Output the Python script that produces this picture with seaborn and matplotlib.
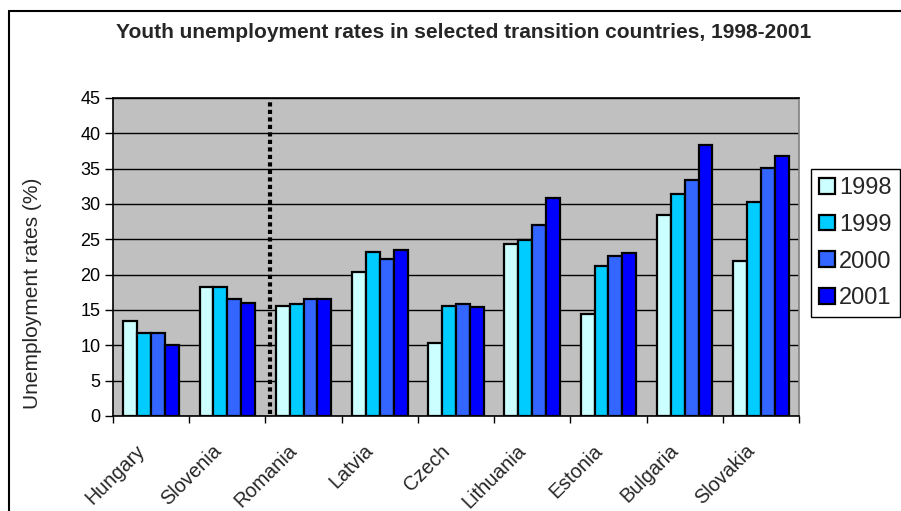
import matplotlib
matplotlib.use("Agg")
import matplotlib.pyplot as plt
import matplotlib.patches as mpatches
import seaborn as sns
import pandas as pd

countries = ["Hungary", "Slovenia", "Romania", "Latvia", "Czech",
             "Lithuania", "Estonia", "Bulgaria", "Slovakia"]
years = ["1998", "1999", "2000", "2001"]
v1998 = [13.5, 18.2, 15.5, 20.4, 10.3, 24.3, 14.5, 28.4, 21.9]
v1999 = [11.8, 18.2, 15.9, 23.2, 15.5, 24.9, 21.2, 31.4, 30.3]
v2000 = [11.8, 16.5, 16.5, 22.2, 15.8, 27.0, 22.6, 33.4, 35.1]
v2001 = [10.1, 16.0, 16.6, 23.5, 15.4, 30.8, 23.0, 38.4, 36.8]
colors = ["#CCFFFF", "#00CCFF", "#3366FF", "#0000FF"]

rows = []
for y, vals in zip(years, [v1998, v1999, v2000, v2001]):
    for c, v in zip(countries, vals):
        rows.append({"country": c, "year": y, "rate": v})
df = pd.DataFrame(rows)

sns.set_style("white")
plt.rcParams["font.family"] = ["Liberation Sans", "DejaVu Sans"]

fig = plt.figure(figsize=(9.01, 5.11), dpi=100)
ax = fig.add_axes([113/901, 1-416/511, (799-113)/901, (416-98)/511])
ax.set_facecolor("#C0C0C0")

sns.barplot(data=df, x="country", y="rate", hue="year", order=countries,
            hue_order=years, palette=colors, width=0.73, gap=0,
            edgecolor="black", linewidth=1.6, saturation=1, ax=ax,
            legend=False, zorder=3)

ax.set_ylim(0, 45)
ax.set_xlim(-0.5, len(countries) - 0.5)
ax.set_yticks(range(0, 46, 5))
ax.tick_params(axis="y", labelsize=13, length=6, width=1, direction="out",
               left=True, pad=3, colors="black")
ax.set_xticks([i - 0.5 for i in range(len(countries) + 1)], minor=False)
ax.set_xticklabels([])
ax.set_xticks([i - 0.12 for i in range(len(countries))], minor=True)
ax.set_xticklabels(countries, minor=True, rotation=45, ha="right",
                   va="center", rotation_mode="anchor", fontsize=14.3)
ax.tick_params(axis="x", which="major", length=5, width=1, direction="out",
               bottom=True, colors="black")
ax.tick_params(axis="x", which="minor", length=0, pad=23)
ax.grid(axis="y", color="black", linewidth=1, zorder=0)
ax.set_axisbelow(True)
ax.set_xlabel("")
ax.set_ylabel("Unemployment rates (%)", fontsize=15)
ax.yaxis.set_label_coords(-0.1035, 0.387)
for s in ["left", "bottom", "top"]:
    ax.spines[s].set_color("black")
    ax.spines[s].set_linewidth(1.2)
ax.spines["right"].set_color("#808080")
ax.spines["right"].set_linewidth(1.2)

ax.axvline(1.56, ymin=0.005, ymax=0.99, color="black", linestyle=(0, (1, 0.8)),
           linewidth=3, zorder=4)

fig.text(0.5 * (113 + 815) / 901, 1 - 32/511,
         "Youth unemployment rates in selected transition countries, 1998-2001",
         ha="center", va="center", fontsize=15, fontweight="bold")

handles = [mpatches.Patch(facecolor=c, edgecolor="black", linewidth=1.6, label=y)
           for c, y in zip(colors, years)]
leg = fig.legend(handles=handles, loc="upper left",
                 bbox_to_anchor=(811/901, 1 - 169/511), fontsize=17,
                 frameon=True, fancybox=False, framealpha=1,
                 edgecolor="black", handlelength=0.65, handleheight=0.65,
                 handletextpad=0.2, labelspacing=0.62, borderpad=0.35,
                 borderaxespad=0)
leg.get_frame().set_linewidth(1)

fig.add_artist(plt.Line2D([9/901, 1], [1 - 11/511, 1 - 11/511],
                          transform=fig.transFigure, color="black", linewidth=1.5))
fig.add_artist(plt.Line2D([9/901, 9/901], [0, 1 - 11/511],
                          transform=fig.transFigure, color="black", linewidth=1.5))

fig.savefig("out.png", dpi=100)
